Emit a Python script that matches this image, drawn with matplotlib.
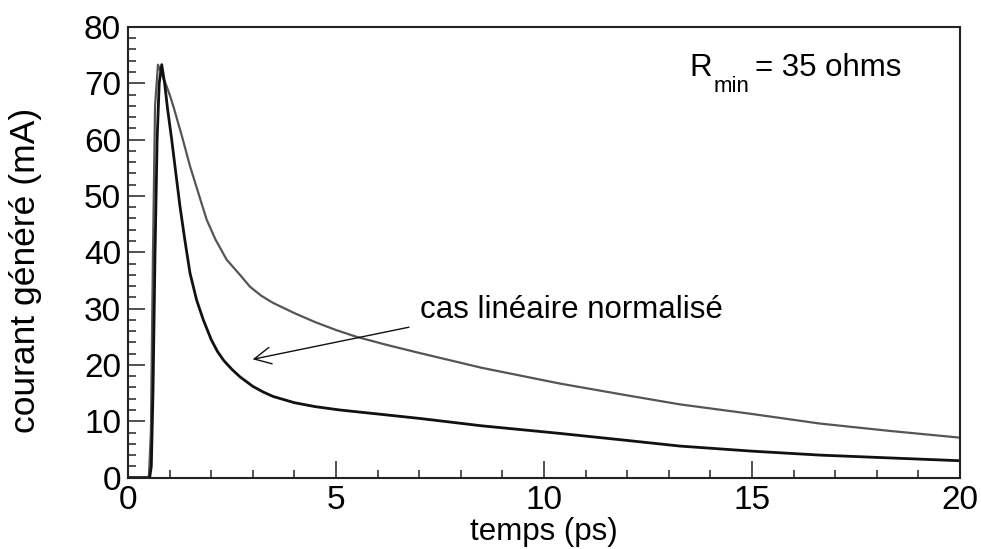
import numpy as np
import matplotlib.pyplot as plt
from matplotlib.ticker import MultipleLocator

plt.rcParams['font.family'] = ['Liberation Sans', 'DejaVu Sans']

# courbe noire (decroissance rapide)
t_noir = [0.0, 0.52, 0.56, 0.60, 0.65, 0.70, 0.75, 0.81, 0.88, 0.95, 1.05, 1.15, 1.25,
          1.37, 1.49, 1.65, 1.81, 2.0, 2.15, 2.3, 2.5, 2.69, 3.0, 3.25, 3.49, 4.0, 4.5,
          5.1, 6.0, 7.02, 8.5, 10.38, 12.0, 13.27, 15.0, 16.63, 18.3, 20.0]
i_noir = [0.0, 0.0, 2.0, 15.0, 40.0, 60.0, 70.0, 73.3, 70.0, 65.5, 60.0, 54.0, 48.1,
          42.0, 36.3, 31.5, 28.0, 24.5, 22.4, 20.8, 19.2, 17.9, 16.2, 15.2, 14.4, 13.3, 12.6,
          12.0, 11.3, 10.5, 9.2, 7.85, 6.6, 5.6, 4.7, 4.0, 3.5, 3.0]

# courbe grise (decroissance lente)
t_gris = [0.0, 0.50, 0.55, 0.60, 0.65, 0.72, 0.80, 0.90, 1.0, 1.09, 1.3, 1.49, 1.7,
          1.89, 2.1, 2.37, 2.69, 2.93, 3.2, 3.49, 4.0, 4.5, 5.0, 5.49, 6.2, 7.02, 8.5,
          10.38, 12.0, 13.27, 15.0, 16.63, 18.3, 20.0]
i_gris = [0.0, 0.0, 8.0, 40.0, 66.0, 73.3, 71.8, 70.0, 68.0, 65.9, 60.5, 55.3, 50.3,
          45.8, 42.3, 38.7, 36.0, 33.9, 32.3, 31.0, 29.2, 27.6, 26.2, 25.0, 23.6, 22.1, 19.5,
          16.7, 14.6, 13.0, 11.3, 9.6, 8.3, 7.1]

fig = plt.figure(figsize=(9.81, 5.49), dpi=100)
ax = fig.add_axes([0.1305, 0.130, 0.848, 0.821])

ax.plot(t_gris, i_gris, color='#555555', lw=1.6)
ax.plot(t_noir, i_noir, color='#111111', lw=2.0)

ax.set_xlim(0, 20)
ax.set_ylim(0, 80)
ax.xaxis.set_major_locator(MultipleLocator(5))
ax.xaxis.set_minor_locator(MultipleLocator(1))
ax.yaxis.set_major_locator(MultipleLocator(10))
ax.yaxis.set_minor_locator(MultipleLocator(2))
ax.tick_params(which='both', direction='in', top=False, right=False,
               labelsize=24, width=1.2, color='#333333')
ax.tick_params(which='major', length=12, pad=5)
ax.tick_params(which='minor', length=6)
for s in ax.spines.values():
    s.set_linewidth(1.5)
    s.set_color('#222222')

ax.set_xlabel('temps (ps)', fontsize=22.5, labelpad=1)
ax.set_ylabel('courant généré (mA)', fontsize=25.5)
ax.yaxis.set_label_coords(-0.103, 0.459)

ax.annotate('', xy=(2.93, 20.9), xytext=(6.82, 26.8),
            arrowprops=dict(arrowstyle='->', color='#111111', lw=1.0,
                            mutation_scale=30))
ax.text(7.02, 29.8, 'cas linéaire normalisé', fontsize=22.5, va='center', ha='left')

# R_min = 35 ohms, indice bien en dessous de la ligne de base
ax.text(13.5, 71.3, 'R', fontsize=22.5, va='baseline', ha='left')
ax.text(14.07, 68.4, 'min', fontsize=16, va='baseline', ha='left')
ax.text(15.07, 71.3, '= 35 ohms', fontsize=22.5, va='baseline', ha='left')

fig.savefig('out.png', dpi=100)
